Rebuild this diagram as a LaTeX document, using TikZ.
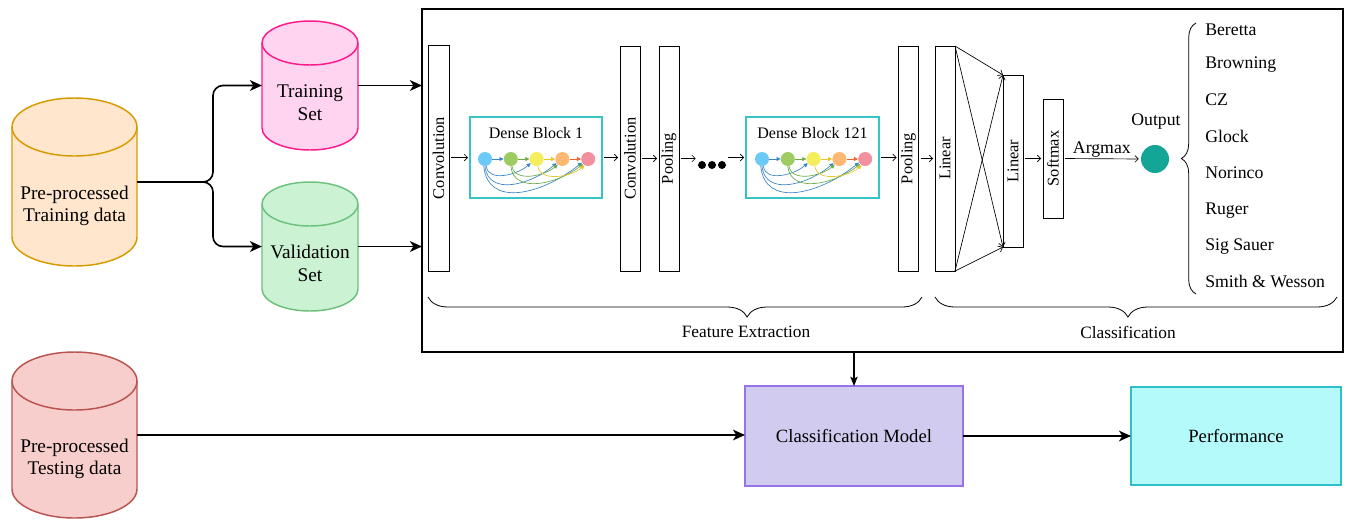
\documentclass[tikz,border=0pt]{standalone}
\usepackage{fontspec}
\setmainfont{Liberation Serif}
\usetikzlibrary{arrows.meta,calc,decorations.pathreplacing}

% palette
\definecolor{ptrainfill}{HTML}{FFE6CC}\definecolor{ptraindraw}{HTML}{D79B00}
\definecolor{tsetfill}{HTML}{FFD4F0}\definecolor{tsetdraw}{HTML}{FF1A8C}
\definecolor{vsetfill}{HTML}{CCF2D4}\definecolor{vsetdraw}{HTML}{6CC27C}
\definecolor{testfill}{HTML}{F8CECC}\definecolor{testdraw}{HTML}{B85450}
\definecolor{cmfill}{HTML}{D2CBF0}\definecolor{cmdraw}{HTML}{9673E6}
\definecolor{perffill}{HTML}{B5FAFA}\definecolor{perfdraw}{HTML}{2EBFC8}
\definecolor{dbdraw}{HTML}{36C4C4}
\definecolor{outfill}{HTML}{13A596}
\definecolor{nA}{HTML}{6CCBF6}\definecolor{nB}{HTML}{9FCC62}
\definecolor{nC}{HTML}{F4EE5C}\definecolor{nD}{HTML}{FFB871}
\definecolor{nE}{HTML}{F2909F}
\definecolor{eA}{HTML}{3A86C8}\definecolor{eB}{HTML}{6DAA4A}
\definecolor{eC}{HTML}{E6C62A}\definecolor{eD}{HTML}{F06030}

% font sizes
\newcommand\szCyl{\fontsize{14.5}{17}\selectfont}
\newcommand\szLayer{\fontsize{12.3}{14}\selectfont}
\newcommand\szDense{\fontsize{12}{14}\selectfont}
\newcommand\szBrand{\fontsize{13.3}{15}\selectfont}
\newcommand\szBrace{\fontsize{13}{15}\selectfont}
\newcommand\szModel{\fontsize{14}{16}\selectfont}

% cylinder outline drawn around an anchor node: name, x radius, y radius, style
\newcommand\cylbody[4]{%
  \draw[#4] ($(#1.north west)+(0,#3)$) -- ($(#1.south west)+(0,-#3)$)
    arc[start angle=180, end angle=0, x radius=#2, y radius=#3]
    -- ($(#1.north east)+(0,#3)$)
    arc[start angle=0, end angle=-180, x radius=#2, y radius=#3] -- cycle;
  \draw[#4, fill=none] ($(#1.north west)+(0,#3)$)
    arc[start angle=180, end angle=0, x radius=#2, y radius=#3];
}

% chain of five densely connected units: prefix, first x, y
\newcommand\densechain[3]{%
  \foreach \k/\c in {1/nA,2/nB,3/nC,4/nD,5/nE}
    \node[dn, fill=\c] (#1\k) at ({#2+25.8*(\k-1)},#3) {};
  \draw[dedge=eA] (#11) -- (#12);
  \draw[dedge=eB] (#12) -- (#13);
  \draw[dedge=eC] (#13) -- (#14);
  \draw[dedge=eD] (#14) -- (#15);
  \draw[dedge=eA] (#11.-80) .. controls +(2,16) and +(-14,12) .. (#13.-145);
  \draw[dedge=eA] (#11.-90) .. controls +(3,30) and +(-26,22) .. (#14.-145);
  \draw[dedge=eA] (#11.-100) .. controls +(4,42) and +(-40,32) .. (#15.-150);
  \draw[dedge=eB] (#12.-80) .. controls +(2,16) and +(-14,12) .. (#14.-130);
  \draw[dedge=eB] (#12.-90) .. controls +(3,28) and +(-26,20) .. (#15.-135);
  \draw[dedge=eC] (#13.-80) .. controls +(2,16) and +(-14,12) .. (#15.-120);
}

\begin{document}
\begin{tikzpicture}[x=0.75pt,y=-0.75pt,
  box/.style 2 args={minimum width=#1*0.75pt, minimum height=#2*0.75pt},
  anchorbox/.style={inner sep=0pt, outer sep=0pt},
  layer/.style={anchorbox, draw, line width=0.6pt, fill=white},
  vlabel/.style={label={[rotate=90, font=\szLayer]center:#1}},
  dbox/.style={anchorbox, draw=dbdraw, line width=1.1pt, fill=white},
  dn/.style={circle, inner sep=0pt, minimum size=10.5pt},
  dedge/.style={draw=#1, line width=0.5pt, -{Triangle[length=3pt,width=3pt,fill=#1]}},
  bigarrow/.style={line width=1.2pt, -{Stealth[length=9pt,width=8pt,inset=2.5pt]}},
  thinarrow/.style={line width=0.5pt, -{Straight Barb[length=2.5pt,width=5pt]},
    shorten <=1.5pt, shorten >=1.5pt},
  crossarrow/.style={line width=0.5pt, -{Straight Barb[length=3pt,width=5pt]}},
  downarrow/.style={line width=0.9pt, -{Stealth[length=7pt,width=5.5pt,inset=1.5pt]}},
  bracepath/.style={decorate, line width=0.6pt},
]
\useasboundingbox (0,0) rectangle (1349,519);

% ---------- data stores ----------
\node[anchorbox, box={125}{168}] (ptrain) at (74.5,182) {};
\cylbody{ptrain}{62.5}{29}{draw=ptraindraw, fill=ptrainfill, line width=1.1pt}
\node[font=\szCyl, align=center] (ptrainlbl) at ($(ptrain)+(0,24)$) {Pre-processed\\Training data};

\node[anchorbox, box={96}{129}] (tset) at (310,85.5) {};
\cylbody{tset}{48}{22}{draw=tsetdraw, fill=tsetfill, line width=1.1pt}
\node[font=\szCyl, align=center] (tsetlbl) at ($(tset)+(0,17.5)$) {Training\\Set};

\node[anchorbox, box={96}{129}] (vset) at (310,246.5) {};
\cylbody{vset}{48}{22}{draw=vsetdraw, fill=vsetfill, line width=1.1pt}
\node[font=\szCyl, align=center] (vsetlbl) at ($(vset)+(0,17)$) {Validation\\Set};

\node[anchorbox, box={125}{166}] (test) at (74.5,435) {};
\cylbody{test}{62.5}{29}{draw=testdraw, fill=testfill, line width=1.1pt}
\node[font=\szCyl, align=center] (testlbl) at ($(test)+(0,24)$) {Pre-processed\\Testing data};

% ---------- network frame ----------
\node[anchorbox, draw, line width=1.2pt, box={921}{343}] (mainbox) at (882.5,180.5) {};

% split of the training data
\draw[bigarrow, rounded corners=7.5pt] (ptrain.east) -- ++(76,0) |- (tset.west);
\draw[bigarrow, rounded corners=7.5pt] (ptrain.east) -- ++(76,0) |- (vset.west);
\draw[bigarrow] (tset.east) -- (tset.east -| mainbox.west);
\draw[bigarrow] (vset.east) -- (vset.east -| mainbox.west);

% ---------- feature extraction ----------
\node[layer, box={21}{226}, vlabel=Convolution] (conv1) at (438.5,158) {};
\node[dbox, box={132}{81}] (db1) at (536,157.5) {};
\node[font=\szDense] (db1t) at (536,133) {Dense Block 1};
\densechain{da}{485}{159}
\node[layer, box={20}{225}, vlabel=Convolution] (conv2) at (630,158.5) {};
\node[layer, box={20}{225}, vlabel=Pooling] (pool1) at (669,158.5) {};
\node[circle, fill=black, inner sep=0pt, minimum size=6pt] (dot1) at (702,165) {};
\node[circle, fill=black, inner sep=0pt, minimum size=6pt] (dot2) at (712,165) {};
\node[circle, fill=black, inner sep=0pt, minimum size=6pt] (dot3) at (722,165) {};
\node[dbox, box={133}{81}] (db2) at (812.5,157.5) {};
\node[font=\szDense] (db2t) at (812.5,133) {Dense Block 121};
\densechain{dz}{762}{159}
\node[layer, box={20}{225}, vlabel=Pooling] (pool2) at (908.5,158.5) {};

\draw[thinarrow] (conv1.east |- db1.west) -- (db1.west);
\draw[thinarrow] (db1.east) -- (db1.east -| conv2.west);
\draw[thinarrow] (conv2.east) -- (pool1.west);
\draw[thinarrow] (pool1.east) -- (pool1.east -| dot1.west);
\draw[thinarrow] (dot3.east |- db2.west) -- (db2.west);
\draw[thinarrow] (db2.east) -- (db2.east -| pool2.west);

% ---------- classification ----------
\node[layer, box={20}{225}, vlabel=Linear] (lin1) at (945,158.5) {};
\node[layer, box={20}{172}, vlabel=Linear] (lin2) at (1013,161) {};
\node[layer, box={20}{119}, vlabel=Softmax] (soft) at (1053,158.5) {};
\node[circle, fill=outfill, inner sep=0pt, minimum size=21pt] (out) at (1155,159) {};
\node[font=\szBrand] (outlbl) at (1156,122) {Output};

\draw[thinarrow] (pool2.east) -- (pool2.east -| lin1.west);
\draw[crossarrow] (lin1.north east) -- (lin2.north west);
\draw[crossarrow] (lin1.north east) -- (lin2.south west);
\draw[crossarrow] (lin1.south east) -- (lin2.north west);
\draw[crossarrow] (lin1.south east) -- (lin2.south west);
\draw[thinarrow] (soft.west -| lin2.east) -- (soft.west);
\draw[thinarrow] (soft.east) -- node[above, font=\szBrand, inner sep=1pt] (argmax) {Argmax} (out.west);

% class list
\foreach \t/\yy [count=\i] in {Beretta/31, Browning/64, CZ/101, Glock/138,
    Norinco/174, Ruger/210, Sig Sauer/246, Smith \& Wesson/283}
  \node[anchor=west, inner sep=0pt, font=\szBrand, text height=9pt, text depth=2.5pt]
    (brand\i) at (1205,\yy) {\t};
\draw[bracepath, decoration={brace, amplitude=11pt}] (1196,294) -- (1196,23);

% section braces
\draw[bracepath, decoration={brace, amplitude=15pt, aspect=0.354}] (922,297) -- (428,297);
\node[font=\szBrace] (featlbl) at (746,332) {Feature Extraction};
\draw[bracepath, decoration={brace, amplitude=15pt, aspect=0.52}] (1337,297) -- (935,297);
\node[font=\szBrace] (clslbl) at (1128,332) {Classification};

% ---------- evaluation ----------
\node[anchorbox, draw=cmdraw, fill=cmfill, line width=1.1pt, box={218}{100},
  font=\szModel] (cm) at (854,436) {Classification Model};
\node[anchorbox, draw=perfdraw, fill=perffill, line width=1.1pt, box={210}{98},
  font=\szModel] (perf) at (1236,436) {Performance};

\draw[downarrow] (mainbox.south -| cm.north) -- (cm.north);
\draw[bigarrow] (test.east) -- (test.east -| cm.west);
\draw[bigarrow] (cm.east) -- (perf.west);
\end{tikzpicture}
\end{document}
